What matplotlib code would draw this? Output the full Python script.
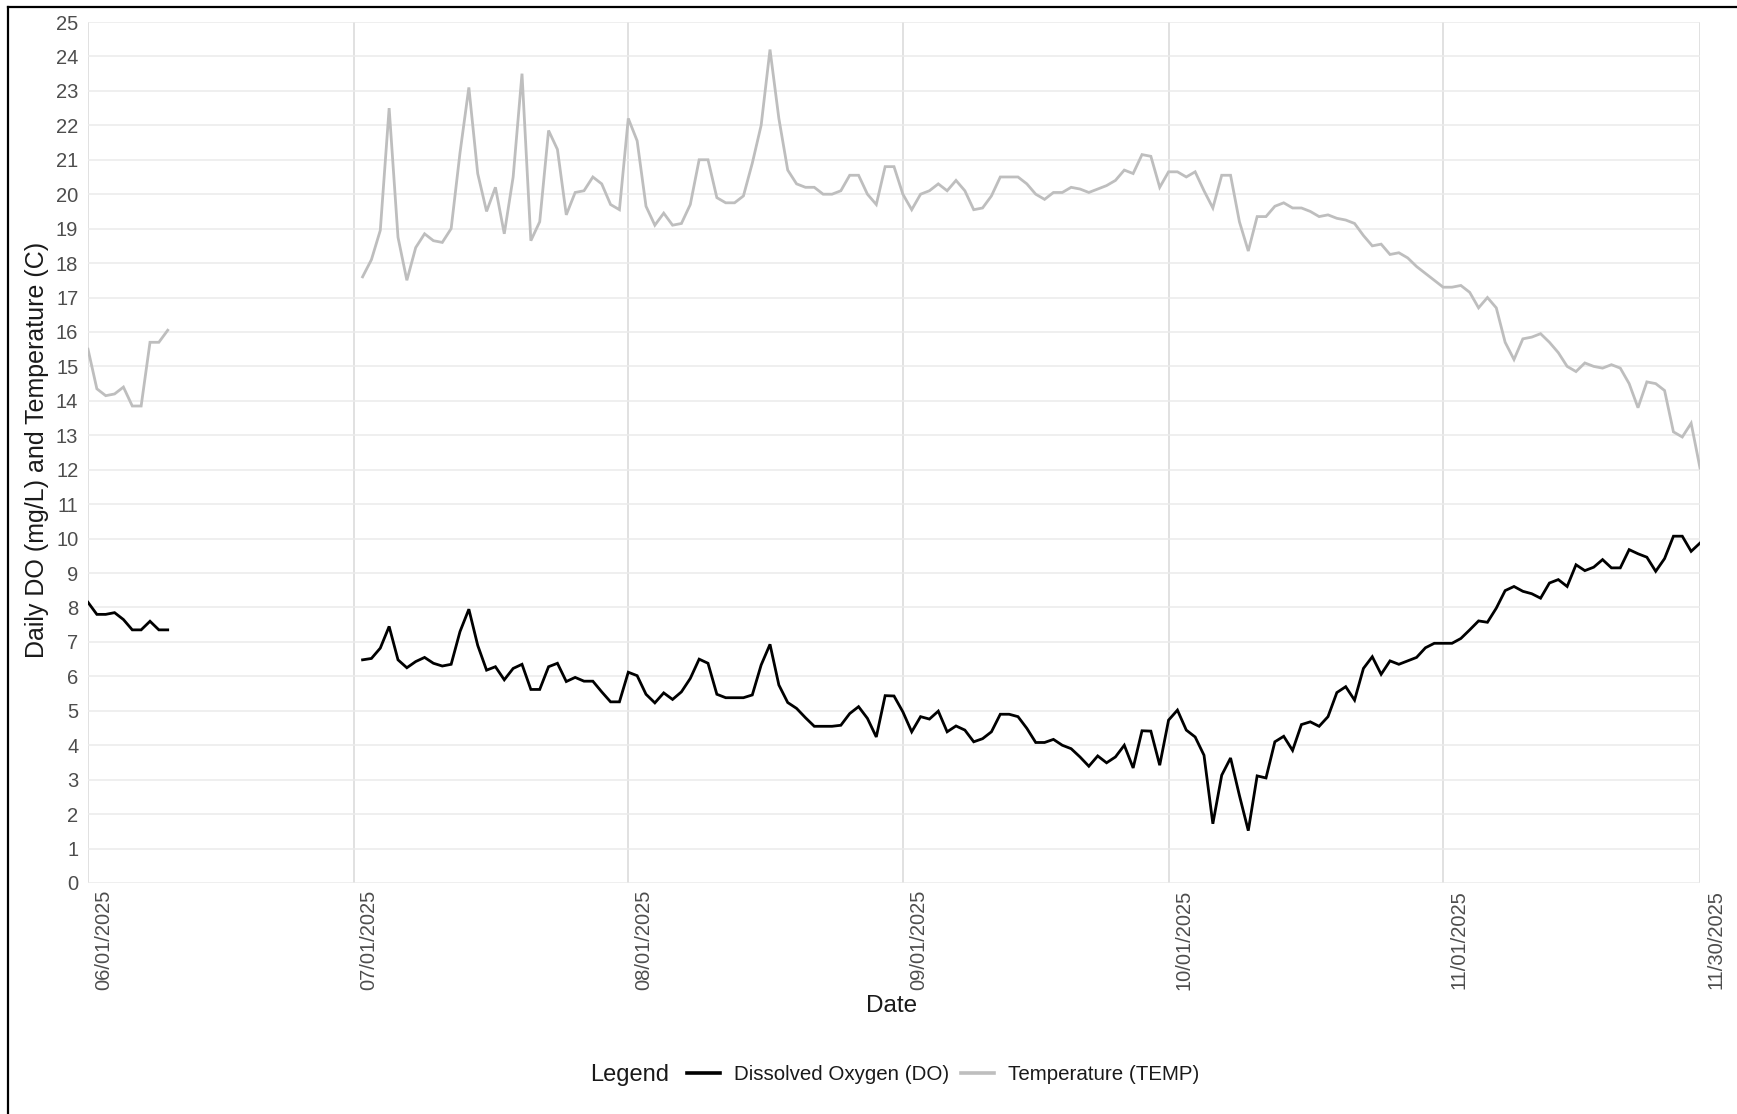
import matplotlib
matplotlib.use("Agg")
import matplotlib.pyplot as plt
import matplotlib.dates as mdates
import matplotlib.transforms as mtransforms
from matplotlib.lines import Line2D
import pandas as pd

plt.rcParams["font.family"] = ["Liberation Sans", "DejaVu Sans"]

# Daily means, first deployment (06/01 - 06/10)
early_start = "2025-06-01"
early_do = [8.15, 7.8, 7.8, 7.85, 7.65, 7.35, 7.35, 7.6, 7.35, 7.35]
early_temp = [15.5, 14.35, 14.15, 14.2, 14.4, 13.85, 13.85, 15.7, 15.7, 16.05]

# Daily means, second deployment (07/02 - 11/30)
main_start = "2025-07-02"
main_do = [
    6.48, 6.52, 6.82, 7.45, 6.48, 6.25, 6.43, 6.55, 6.38, 6.3,
    6.35, 7.3, 7.95, 6.9, 6.18, 6.28, 5.9, 6.23, 6.35, 5.62,
    5.62, 6.28, 6.38, 5.85, 5.97, 5.86, 5.86, 5.55, 5.26, 5.26,
    6.12, 6.02, 5.48, 5.23, 5.52, 5.33, 5.55, 5.94, 6.5, 6.38,
    5.48, 5.38, 5.38, 5.38, 5.46, 6.33, 6.93, 5.75, 5.24, 5.07,
    4.8, 4.55, 4.55, 4.55, 4.58, 4.92, 5.12, 4.78, 4.24, 5.44,
    5.43, 4.97, 4.39, 4.83, 4.76, 4.99, 4.39, 4.56, 4.44, 4.1,
    4.19, 4.39, 4.9, 4.9, 4.83, 4.49, 4.08, 4.08, 4.17, 4.0,
    3.9, 3.66, 3.39, 3.69, 3.49, 3.66, 4.0, 3.34, 4.42, 4.41,
    3.42, 4.73, 5.02, 4.44, 4.24, 3.71, 1.72, 3.13, 3.63, 2.54,
    1.52, 3.11, 3.05, 4.1, 4.26, 3.85, 4.6, 4.68, 4.55, 4.83,
    5.53, 5.7, 5.31, 6.23, 6.57, 6.06, 6.45, 6.35, 6.45, 6.55,
    6.83, 6.96, 6.96, 6.96, 7.1, 7.35, 7.61, 7.57, 7.98, 8.49,
    8.61, 8.47, 8.4, 8.27, 8.71, 8.81, 8.61, 9.24, 9.07, 9.17,
    9.39, 9.15, 9.15, 9.68, 9.56, 9.46, 9.05, 9.42, 10.07, 10.07,
    9.63, 9.87,
]
main_temp = [
    17.6, 18.1, 18.95, 22.5, 18.75, 17.5, 18.45, 18.85, 18.65, 18.6,
    19.0, 21.2, 23.1, 20.6, 19.5, 20.2, 18.85, 20.5, 23.5, 18.65,
    19.2, 21.85, 21.3, 19.4, 20.05, 20.1, 20.5, 20.3, 19.7, 19.55,
    22.2, 21.55, 19.65, 19.1, 19.45, 19.1, 19.15, 19.7, 21.0, 21.0,
    19.9, 19.75, 19.75, 19.95, 20.9, 22.0, 24.2, 22.2, 20.7, 20.3,
    20.2, 20.2, 20.0, 20.0, 20.1, 20.55, 20.55, 20.0, 19.7, 20.8,
    20.8, 20.0, 19.55, 20.0, 20.1, 20.3, 20.1, 20.4, 20.1, 19.55,
    19.6, 19.95, 20.5, 20.5, 20.5, 20.3, 20.0, 19.85, 20.05, 20.05,
    20.2, 20.15, 20.05, 20.15, 20.25, 20.4, 20.7, 20.6, 21.15, 21.1,
    20.2, 20.65, 20.65, 20.5, 20.65, 20.1, 19.6, 20.55, 20.55, 19.2,
    18.35, 19.35, 19.35, 19.65, 19.75, 19.6, 19.6, 19.5, 19.35, 19.4,
    19.3, 19.25, 19.15, 18.8, 18.5, 18.55, 18.25, 18.3, 18.15, 17.9,
    17.7, 17.5, 17.3, 17.3, 17.35, 17.15, 16.7, 17.0, 16.7, 15.7,
    15.2, 15.8, 15.85, 15.95, 15.7, 15.4, 15.0, 14.85, 15.1, 15.0,
    14.95, 15.05, 14.95, 14.5, 13.8, 14.55, 14.5, 14.3, 13.1, 12.95,
    13.35, 12.05,
]

tick_dates = ["2025-06-01", "2025-07-01", "2025-08-01", "2025-09-01",
              "2025-10-01", "2025-11-01", "2025-11-30"]

early_dates = pd.date_range(early_start, periods=len(early_do), freq="D")
main_dates = pd.date_range(main_start, periods=len(main_do), freq="D")
ticks = pd.to_datetime(tick_dates)

DO_COLOR = "black"
TEMP_COLOR = "#bebebe"
TEXT_GRAY = "#4d4d4d"

fig = plt.figure(figsize=(17.37, 11.14), dpi=100)
ax = fig.add_axes([88 / 1737, 1 - 883 / 1114, 1612 / 1737, 861 / 1114])

ax.plot(early_dates, early_temp, color=TEMP_COLOR, lw=2.0, solid_joinstyle="miter")
ax.plot(main_dates, main_temp, color=TEMP_COLOR, lw=2.0, solid_joinstyle="miter")
ax.plot(early_dates, early_do, color=DO_COLOR, lw=2.0, solid_joinstyle="miter")
ax.plot(main_dates, main_do, color=DO_COLOR, lw=2.0, solid_joinstyle="miter")

ax.set_xlim(ticks[0], ticks[-1])
ax.set_ylim(0, 25)
ax.set_yticks(range(0, 26))
ax.set_xticks(ticks)
ax.xaxis.set_major_formatter(mdates.DateFormatter("%m/%d/%Y"))

for s in ax.spines.values():
    s.set_visible(False)
ax.tick_params(axis="both", length=0, labelsize=14.5, labelcolor=TEXT_GRAY)
ax.tick_params(axis="y", pad=7)
ax.tick_params(axis="x", pad=5)
ax.grid(axis="y", color="#ebebeb", lw=1.1)
ax.grid(axis="x", color="#d9d9d9", lw=1.1)
ax.set_axisbelow(True)

# rotated date labels sit just right of their gridline
shift = mtransforms.ScaledTranslation(6 / 100, 0, fig.dpi_scale_trans)
for lbl in ax.get_xticklabels():
    lbl.set_rotation(90)
    lbl.set_ha("left")
    lbl.set_va("top")
    lbl.set_transform(lbl.get_transform() + shift)

fig.text(37 / 1737, 1 - 450 / 1114, "Daily DO (mg/L) and Temperature (C)",
         rotation=90, ha="center", va="center", fontsize=18, color="#1a1a1a")
fig.text(892 / 1737, 1 - 1006 / 1114, "Date", ha="center", va="center",
         fontsize=17.5, color="#1a1a1a")

# legend row: title, then the two series keys
fig.text(630 / 1737, 1 - 1075 / 1114, "Legend", ha="center", va="center",
         fontsize=17, color="#1a1a1a")
handles = [Line2D([], [], color=DO_COLOR, lw=2.6),
           Line2D([], [], color=TEMP_COLOR, lw=2.6)]
fig.legend(handles, ["Dissolved Oxygen (DO)", "Temperature (TEMP)"],
           loc="center left", bbox_to_anchor=(687 / 1737, 1 - 1075 / 1114),
           ncol=2, frameon=False, fontsize=14.8, handlelength=1.6,
           handletextpad=0.7, columnspacing=0.55, borderpad=0, borderaxespad=0,
           labelcolor="#1a1a1a")

# frame lines along the top and left edge
fig.add_artist(Line2D([8 / 1737, 8 / 1737], [0, 1 - 7 / 1114], color="black",
                      lw=1.6, transform=fig.transFigure))
fig.add_artist(Line2D([8 / 1737, 1], [1 - 7 / 1114, 1 - 7 / 1114], color="black",
                      lw=1.6, transform=fig.transFigure))

fig.savefig("out.png", dpi=100, facecolor="white")
